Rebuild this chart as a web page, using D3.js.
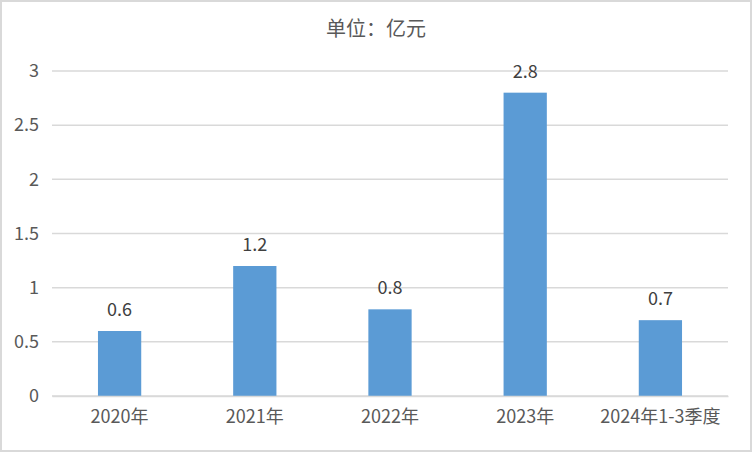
<!DOCTYPE html>
<html>
<head>
<meta charset="utf-8">
<script src="https://cdn.jsdelivr.net/npm/d3@7"></script>
<style>
  html, body { margin: 0; padding: 0; background: #fff; }
  svg { display: block; font-family: "Noto Sans CJK SC", "Noto Sans", sans-serif; }
</style>
</head>
<body>
<div id="chart"></div>
<script>
// chart data
const categories = ["2020年", "2021年", "2022年", "2023年", "2024年1-3季度"];
const values = [0.6, 1.2, 0.8, 2.8, 0.7];
const yTicks = [0, 0.5, 1, 1.5, 2, 2.5, 3];
const title = "单位：亿元";

const width = 752, height = 452;
const margin = { top: 71, right: 24, bottom: 56, left: 52 };
const innerW = width - margin.left - margin.right;
const innerH = height - margin.top - margin.bottom;

const svg = d3.select("#chart")
    .append("svg")
    .attr("width", width)
    .attr("height", height);

// outer border
svg.append("rect")
    .attr("x", 1).attr("y", 1)
    .attr("width", width - 2).attr("height", height - 2)
    .attr("fill", "#fff")
    .attr("stroke", "#d9d9d9")
    .attr("stroke-width", 2);

svg.append("text")
    .attr("x", width / 2)
    .attr("y", 36)
    .attr("text-anchor", "middle")
    .attr("font-size", 20)
    .attr("fill", "#595959")
    .text(title);

const g = svg.append("g")
    .attr("transform", `translate(${margin.left},${margin.top})`);

const x = d3.scaleBand()
    .domain(categories)
    .range([0, innerW])
    .paddingInner(0.68)
    .paddingOuter(0.34);

const y = d3.scaleLinear()
    .domain([0, 3])
    .range([innerH, 0]);

// gridlines
g.append("g")
    .selectAll("line")
    .data(yTicks)
    .enter()
    .append("line")
    .attr("x1", 0)
    .attr("x2", innerW)
    .attr("y1", d => y(d))
    .attr("y2", d => y(d))
    .attr("stroke", "#d9d9d9")
    .attr("stroke-width", 1.5);

// y axis labels
const yAxis = g.append("g")
    .call(d3.axisLeft(y).tickValues(yTicks).tickSize(0).tickPadding(13).tickFormat(d => d));
yAxis.select(".domain").remove();
yAxis.selectAll("text")
    .attr("font-size", 18)
    .attr("fill", "#595959")
    .attr("font-family", "\"Noto Sans CJK SC\", sans-serif");

// bars
g.selectAll("rect.bar")
    .data(values)
    .enter()
    .append("rect")
    .attr("class", "bar")
    .attr("x", (d, i) => x(categories[i]))
    .attr("y", d => y(d))
    .attr("width", x.bandwidth())
    .attr("height", d => innerH - y(d))
    .attr("fill", "#5b9bd5");

// value labels
g.selectAll("text.val")
    .data(values)
    .enter()
    .append("text")
    .attr("class", "val")
    .attr("x", (d, i) => x(categories[i]) + x.bandwidth() / 2)
    .attr("y", d => y(d) - 15)
    .attr("text-anchor", "middle")
    .attr("font-size", 18)
    .attr("fill", "#404040")
    .text(d => d);

// x axis
const xAxis = g.append("g")
    .attr("transform", `translate(0,${innerH})`)
    .call(d3.axisBottom(x).tickSize(0).tickPadding(14));
xAxis.select(".domain")
    .attr("stroke", "#d9d9d9")
    .attr("stroke-width", 1.5);
xAxis.selectAll("text")
    .attr("font-size", 18)
    .attr("fill", "#595959")
    .attr("font-family", "\"Noto Sans CJK SC\", sans-serif");
</script>
</body>
</html>
